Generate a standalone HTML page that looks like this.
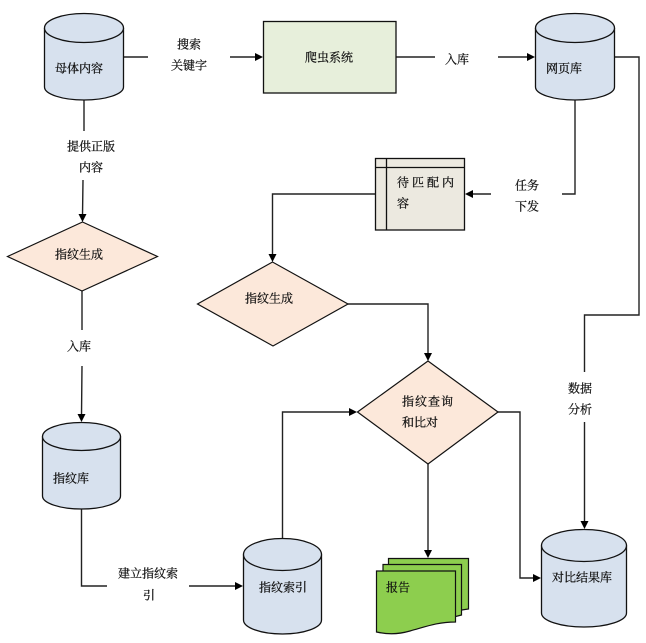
<!DOCTYPE html>
<html><head><meta charset="utf-8"><style>
html,body{margin:0;padding:0;background:#fff}
svg{display:block;filter:blur(0.35px)}
text{font-family:"Liberation Serif","Noto Serif CJK SC",serif;font-size:12px;fill:#111;stroke:#111;stroke-width:0.25}
.s{fill:none;stroke:#111;stroke-width:1.3}
.g{stroke:#222;stroke-width:1.4;fill:none}
.a{fill:#000}
</style></head><body>
<svg width="646" height="643" viewBox="0 0 646 643" xmlns="http://www.w3.org/2000/svg">
<!-- connectors -->
<g class="g">
<path d="M123.5 57H148M230 57H257"/>
<path d="M84 100V131M83 180L82.5 216"/>
<path d="M396 57H435M498 57H529"/>
<path d="M615 57H639V315H584.5V372M584.5 422V523"/>
<path d="M575 100V194H562M491 194H471"/>
<path d="M375.5 194H272.5V256"/>
<path d="M348 304H428V355"/>
<path d="M82 291V330M82 366L81.5 416"/>
<path d="M81.5 509V586H107M189 586H237"/>
<path d="M282.5 538V412H351"/>
<path d="M428 464V552"/>
<path d="M498 412H520V578H535"/>
</g>
<g class="a">
<path d="M263 57L255 53V61Z"/>
<path d="M82.5 222L78.500 214H86.500Z"/>
<path d="M535 57L527 53V61Z"/>
<path d="M584.500 529L580.500 521H588.500Z"/>
<path d="M465 194L473 190V198Z"/>
<path d="M272.500 262L268.500 254H276.500Z"/>
<path d="M428 361L424 353H432Z"/>
<path d="M81.500 422L77.500 414H85.500Z"/>
<path d="M243 586L235 582V590Z"/>
<path d="M357 412L349 408V416Z"/>
<path d="M428 558L424 550H432Z"/>
<path d="M541 578L533 574V582Z"/>
</g>
<!-- cylinders -->
<g class="s" style="fill:#d7e1ee">
<path d="M44.500 28A39.500 14.500 0 0 1 123.500 28V87A39.500 13 0 0 1 44.500 87Z"/>
<path d="M44.500 28A39.500 14.500 0 0 0 123.500 28"/>
<path d="M535.500 28A39.500 14.500 0 0 1 614.500 28V87A39.500 13 0 0 1 535.500 87Z"/>
<path d="M535.500 28A39.500 14.500 0 0 0 614.500 28"/>
<path d="M42.500 436.500A39 14 0 0 1 120.500 436.500V496A39 13 0 0 1 42.500 496Z"/>
<path d="M42.500 436.500A39 14 0 0 0 120.500 436.500"/>
<path d="M243.500 554.500A39 16 0 0 1 321.500 554.500V620A39 14 0 0 1 243.500 620Z"/>
<path d="M243.500 554.500A39 16 0 0 0 321.500 554.500"/>
<path d="M541.500 545.500A42.500 16 0 0 1 626.500 545.500V613A42.500 14 0 0 1 541.500 613Z"/>
<path d="M541.500 545.500A42.500 16 0 0 0 626.500 545.500"/>
</g>
<!-- rect -->
<rect x="263.500" y="21.500" width="132.500" height="71.500" fill="#e7efdb" stroke="#111" stroke-width="1.300"/>
<!-- internal storage -->
<rect x="375.500" y="158.500" width="89" height="71.500" fill="#ece9e0" stroke="#111" stroke-width="1.300"/>
<path class="s" d="M386.500 158.500V230M375.500 167.500H464.500"/>
<!-- diamonds -->
<g fill="#fce8da" stroke="#111" stroke-width="1.200">
<path d="M7.500 256.500L82.500 222L157.500 256.500L82 291Z"/>
<path d="M197.500 304L272.500 262L348 304L273 346Z"/>
<path d="M357.500 412L428 361L498 412L428 464Z"/>
</g>
<!-- report -->
<g fill="#8dce4e" stroke="#111" stroke-width="1.200">
<path d="M388.500 558.500H468.500V609L455 611V600H388.500Z"/>
<path d="M383 564.500H461.500V615L450 618V600H383Z"/>
<path d="M376.500 571H455.500V622C437 622 425 627 410 631C396 635 386 634 376.500 632Z"/>
</g>
<!-- labels -->
<text x="55" y="72.500">母体内容</text>
<text x="177" y="48.500">搜索</text>
<text x="171" y="69.500">关键字</text>
<text x="67" y="150.500">提供正版</text>
<text x="79" y="171.500">内容</text>
<text x="55" y="258.500">指纹生成</text>
<text x="305" y="61.500">爬虫系统</text>
<text x="445" y="63.500">入库</text>
<text x="546" y="72.500">网页库</text>
<text x="397" y="186.500" letter-spacing="3">待匹配内</text>
<text x="397" y="207.500">容</text>
<text x="515" y="189.500">任务</text>
<text x="515" y="210.500">下发</text>
<text x="245" y="302.500">指纹生成</text>
<text x="67" y="350.500">入库</text>
<text x="53" y="482.500">指纹库</text>
<text x="118" y="577.500">建立指纹索</text>
<text x="143" y="599.500">引</text>
<text x="259" y="591.500">指纹索引</text>
<text x="402" y="405.500" letter-spacing="1">指纹查询</text>
<text x="402" y="426.500">和比对</text>
<text x="386" y="591.500">报告</text>
<text x="552" y="581.500">对比结果库</text>
<text x="568" y="392.500">数据</text>
<text x="568" y="413.500">分析</text>
</svg>
</body></html>
